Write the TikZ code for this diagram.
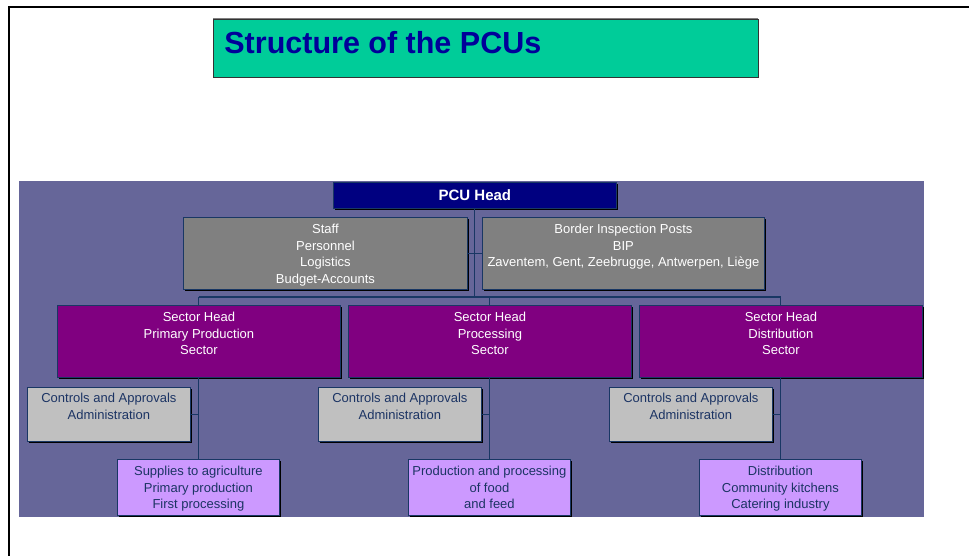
\documentclass[tikz,border=0pt]{standalone}
\usepackage{fontspec}
\setmainfont{Liberation Sans}
\usetikzlibrary{shadows}
\definecolor{panel}{RGB}{102,102,153}
\definecolor{titlefill}{RGB}{0,204,153}
\definecolor{titletext}{RGB}{0,0,153}
\definecolor{headfill}{RGB}{0,0,128}
\definecolor{grayfill}{RGB}{128,128,128}
\definecolor{sectfill}{RGB}{128,0,128}
\definecolor{silverfill}{RGB}{192,192,192}
\definecolor{lavfill}{RGB}{204,153,255}
\definecolor{darktext}{RGB}{28,52,100}
\definecolor{linecol}{RGB}{25,55,100}
\newcommand\bxt[4]{\parbox[c][#2pt][t]{#1pt}{\vspace*{#3pt}\centering\fontsize{13}{16.5}\selectfont\strut #4\par}}
\tikzset{
  box/.style={draw=linecol, line width=0.8pt, inner sep=0pt, anchor=north west,
    general shadow={fill=black, shadow xshift=1.6pt, shadow yshift=-1.6pt}},
  graybox/.style={box, fill=grayfill, text=white},
  sectbox/.style={box, fill=sectfill, text=white},
  silverbox/.style={box, fill=silverfill, text=darktext},
  lavbox/.style={box, fill=lavfill, text=darktext},
  conn/.style={draw=linecol, line width=1.1pt}
}
\begin{document}
\begin{tikzpicture}[x=1pt,y=-1pt]
\useasboundingbox (0,0) rectangle (969,556);
\fill[white] (0,0) rectangle (969,556);
% outer frame
\draw[black, line width=2pt] (969,7) -- (9,7) -- (9,556);
% title
\node[draw=black!80, line width=0.8pt, fill=titlefill, inner sep=0pt, anchor=north west, text=titletext,
  general shadow={fill=gray, shadow xshift=0pt, shadow yshift=1.2pt}] (title) at (213,19)
  {\parbox[c][58pt][t]{545pt}{\vspace*{9pt}\raggedright\hspace*{11pt}\fontsize{30.5}{36}\selectfont\bfseries\strut Structure of the PCUs\par}};
% panel
\fill[panel] (19,181) rectangle (924,517);
% boxes
\node[box, fill=headfill, text=white] (head) at (333,182)
  {\parbox[c][26pt][c]{283pt}{\centering\fontsize{15}{18}\selectfont\bfseries PCU Head}};
\node[graybox] (staff) at (183,217) {\bxt{284}{72}{5}{Staff\\Personnel\\Logistics\\Budget-Accounts}};
\node[graybox] (bip) at (482,217) {\bxt{282}{72}{5}{Border Inspection Posts\\BIP\\Zaventem, Gent, Zeebrugge, Antwerpen, Liège}};
\node[sectbox] (s1) at (57,305) {\bxt{283}{72}{5}{Sector Head\\Primary Production\\Sector}};
\node[sectbox] (s2) at (348,305) {\bxt{283}{72}{5}{Sector Head\\Processing\\Sector}};
\node[sectbox] (s3) at (639,305) {\bxt{283}{72}{5}{Sector Head\\Distribution\\Sector}};
\node[silverbox] (c1) at (27,387) {\bxt{163}{54}{4}{Controls and Approvals\\Administration}};
\node[silverbox] (c2) at (318,387) {\bxt{163}{54}{4}{Controls and Approvals\\Administration}};
\node[silverbox] (c3) at (609,387) {\bxt{163}{54}{4}{Controls and Approvals\\Administration}};
\node[lavbox] (b1) at (117,459) {\bxt{162}{56}{5}{Supplies to agriculture\\Primary production\\First processing}};
\node[lavbox] (b2) at (408,459) {\bxt{162}{56}{5}{Production and processing\\of food\\and feed}};
\node[lavbox] (b3) at (699,459) {\bxt{162}{56}{5}{Distribution\\Community kitchens\\Catering industry}};
% connectors
\coordinate (barL) at (198.5,297);
\coordinate (barR) at (780.5,297);
\draw[conn] (head.south) -- (head.south |- barL);
\draw[conn] (staff.east) -- (bip.west);
\draw[conn] (barL) -- (barR);
\draw[conn] (s1.north) -- (s1.north |- barL);
\draw[conn] (s2.north) -- (s2.north |- barL);
\draw[conn] (s3.north) -- (s3.north |- barL);
\draw[conn] (s1.south) -- (s1.south |- b1.north);
\draw[conn] (s2.south) -- (s2.south |- b2.north);
\draw[conn] (s3.south) -- (s3.south |- b3.north);
\draw[conn] (c1.east) -- (c1.east -| s1.south);
\draw[conn] (c2.east) -- (c2.east -| s2.south);
\draw[conn] (c3.east) -- (c3.east -| s3.south);
\end{tikzpicture}
\end{document}
